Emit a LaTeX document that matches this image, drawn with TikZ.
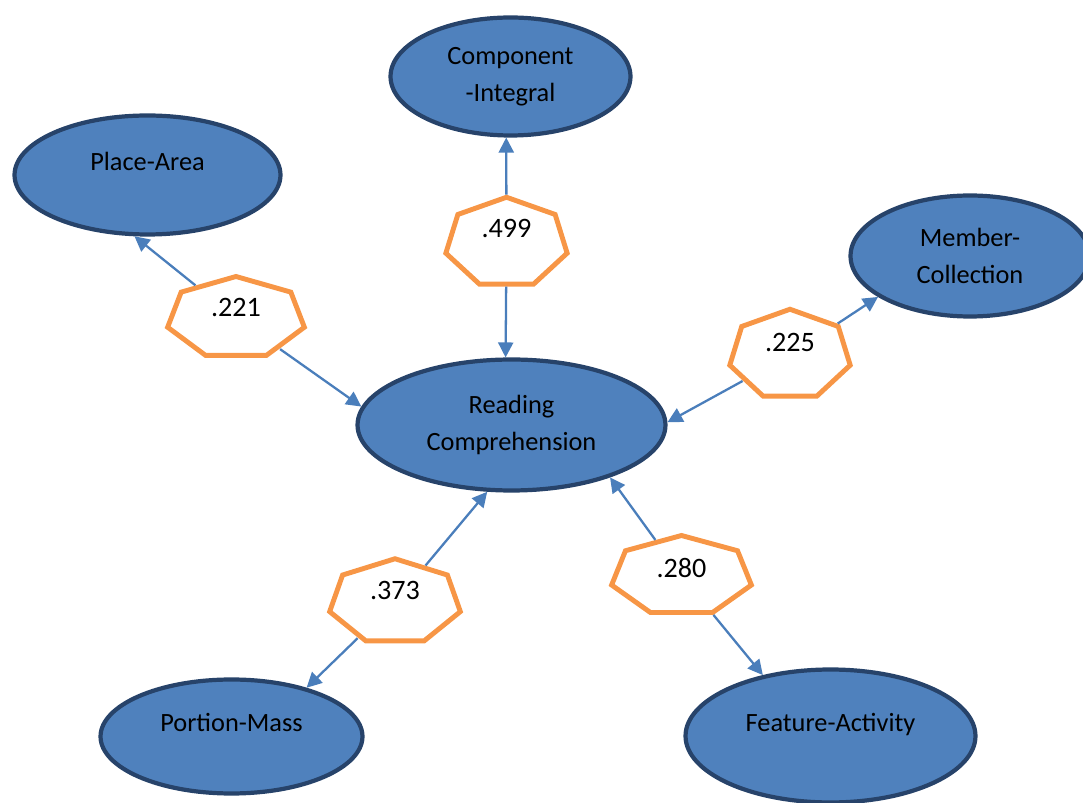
\documentclass[tikz,border=0pt]{standalone}
\usepackage{fontspec}
\setmainfont{Carlito}
\usetikzlibrary{positioning,shapes.geometric,arrows.meta}
\definecolor{fillblue}{HTML}{4F81BD}
\definecolor{rimblue}{HTML}{27436A}
\definecolor{linkblue}{HTML}{4A7EBB}
\definecolor{heptorange}{HTML}{F79646}

\begin{document}
\begin{tikzpicture}[x=0.02cm,y=-0.02cm,
    concept/.style={ellipse,draw=rimblue,fill=fillblue,line width=2.4pt,
      inner sep=0pt,align=center,font=\fontsize{15}{21}\selectfont},
    high text/.style={text depth=0.55cm},
    weight/.style={inner sep=0pt,font=\fontsize{16}{19}\selectfont},
    hept/.style 2 args={regular polygon,regular polygon sides=7,
      draw=heptorange,line width=2.8pt,inner sep=0pt,
      minimum size=#1,xscale=#2,transform shape},
    link/.style={-{Triangle[length=0.3cm,width=0.3cm]},color=linkblue,
      line width=1.3pt}]
    \useasboundingbox (0,0) rectangle (1083,803);
    % factors
      \node[concept,minimum width=6.16cm,minimum height=2.62cm] (rc) at (511.5,425) {Reading\\Comprehension};
      \node[concept,minimum width=4.80cm,minimum height=2.36cm] (ci) at (510.5,76.5) {Component\\-Integral};
      \node[concept,high text,minimum width=5.32cm,minimum height=2.38cm] (pa) at (147.5,175) {Place-Area};
      \node[concept,minimum width=4.78cm,minimum height=2.42cm] (mc) at (970,256) {Member-\\Collection};
      \node[concept,high text,minimum width=5.24cm,minimum height=2.28cm] (pm) at (231.5,736.5) {Portion-Mass};
      \node[concept,high text,minimum width=5.80cm,minimum height=2.66cm] (fa) at (830.5,736) {Feature-Activity};
    % weights
      \node[weight] (v221) at (236,307) {.221};
      \node[weight] (v499) at (506.5,228) {.499};
      \node[weight] (v225) at (790,342) {.225};
      \node[weight] (v373) at (395,590) {.373};
      \node[weight] (v280) at (681.5,568) {.280};
      \node[hept={1.66cm}{1.69}] (h221) at ([yshift=-0.22cm]v221.center) {};
      \node[hept={1.83cm}{1.36}] (h499) at ([yshift=-0.30cm]v499.center) {};
      \node[hept={1.83cm}{1.35}] (h225) at ([yshift=-0.26cm]v225.center) {};
      \node[hept={1.73cm}{1.55}] (h373) at ([yshift=-0.24cm]v373.center) {};
      \node[hept={1.62cm}{1.77}] (h280) at ([yshift=-0.16cm]v280.center) {};
    % links
      \path[link]
        (h221) edge (pa.258)
        (h221) edge (rc.173)
        (h499) edge (ci.266)
        (h499) edge (rc.95)
        (h225) edge (mc.204)
        (h225) edge (rc.1)
        (h373) edge (rc.250)
        (h373) edge (pm.33)
        (h280) edge (rc.332)
        (h280) edge (fa.138);
\end{tikzpicture}
\end{document}
